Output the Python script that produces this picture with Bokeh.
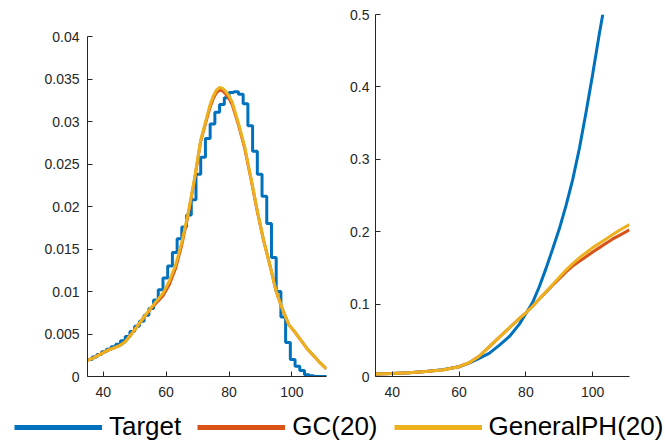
from bokeh.plotting import figure
from bokeh.models import Range1d, FixedTicker, Legend, LegendItem
from bokeh.layouts import column, row
from bokeh.embed import file_html
from bokeh.resources import INLINE

# ---------------- data ----------------
# left panel: density
target_edges = [35, 36.5, 38, 39.5, 41, 42.5, 44, 45.5, 47, 48.5, 50, 51.5, 53, 54.5,
                56, 57.5, 59, 60.5, 62, 63.5, 65, 66.5, 68, 69.5, 71, 72.5, 74, 75.5,
                77, 78.5, 80, 81.5, 83, 84.5, 86, 87.5, 89, 90.5, 92, 93.5, 95, 96.5,
                98, 99.5, 101, 102.5, 104, 105.5, 107, 108.5, 110, 111.5]
target_density = [0.0020, 0.0023, 0.0026, 0.0029, 0.0032, 0.0035, 0.0038, 0.0042, 0.0047, 0.0053,
                  0.0059, 0.0065, 0.0072, 0.0080, 0.0090, 0.0102, 0.0116, 0.0130, 0.0146, 0.0162,
                  0.0176, 0.0190, 0.0208, 0.0238, 0.0258, 0.0280, 0.0297, 0.0311, 0.0320, 0.0328,
                  0.0334, 0.0335, 0.0332, 0.0321, 0.0295, 0.0265, 0.0238, 0.0212, 0.0180, 0.0140,
                  0.0100, 0.0070, 0.0040, 0.0020, 0.0012, 0.0007, 0.0002, 0.0001, 0.0, 0.0, 0.0]

fit_x = [35, 37, 39, 41, 43, 45, 47, 49, 51, 53, 55, 57, 59, 61, 63, 65, 67, 69, 71, 73,
         74, 75, 76, 77, 78, 79, 80, 81, 83, 85, 87, 89, 91, 93, 95, 97, 99, 101, 103,
         105, 107, 109, 111]
gph_density = [0.0019, 0.0022, 0.0026, 0.0030, 0.0033, 0.0036, 0.0041, 0.0050, 0.0060, 0.0070,
               0.0080, 0.0089, 0.0098, 0.0112, 0.0131, 0.0158, 0.0192, 0.0232, 0.0278, 0.0306,
               0.0320, 0.0330, 0.0337, 0.0340, 0.0339, 0.0335, 0.0330, 0.0323, 0.0298, 0.0270,
               0.0233, 0.0195, 0.0160, 0.0131, 0.0100, 0.0079, 0.0061, 0.0052, 0.0042, 0.0032,
               0.0024, 0.0016, 0.0009]
gc_density = [0.0019, 0.0022, 0.0026, 0.0030, 0.0033, 0.0036, 0.0041, 0.0050, 0.0060, 0.0070,
              0.0079, 0.0087, 0.0095, 0.0108, 0.0127, 0.0155, 0.0190, 0.0231, 0.0277, 0.0304,
              0.0317, 0.0327, 0.0334, 0.0337, 0.0336, 0.0332, 0.0327, 0.0320, 0.0296, 0.0268,
              0.0232, 0.0194, 0.0160, 0.0131, 0.0100, 0.0079, 0.0061, 0.0052, 0.0042, 0.0032,
              0.0024, 0.0016, 0.0009]

# right panel: hazard rate
target_hx = [35, 40, 45, 50, 55, 60, 63, 66, 69, 72, 75, 78, 80, 82, 84, 86, 88, 90,
             92, 94, 96, 98, 100, 102, 103]
target_hazard = [0.0035, 0.0042, 0.0052, 0.0068, 0.0095, 0.0135, 0.0185, 0.025, 0.032, 0.043,
                 0.055, 0.072, 0.087, 0.102, 0.124, 0.149, 0.176, 0.204, 0.236, 0.272,
                 0.315, 0.365, 0.418, 0.474, 0.5]
fit_hx = [35, 40, 45, 50, 55, 60, 63, 66, 69, 72, 75, 78, 80, 82, 84, 86, 88, 90,
          92, 94, 96, 98, 100, 102, 104, 106, 108, 111]
gph_hazard = [0.0035, 0.0042, 0.0052, 0.0068, 0.009, 0.0135, 0.019, 0.028, 0.041, 0.054,
              0.067, 0.080, 0.088, 0.097, 0.107, 0.117, 0.127, 0.137, 0.147, 0.156,
              0.164, 0.171, 0.178, 0.184, 0.190, 0.196, 0.202, 0.210]
gc_hazard = [0.0035, 0.0042, 0.0052, 0.0068, 0.009, 0.0135, 0.019, 0.028, 0.041, 0.054,
             0.067, 0.080, 0.088, 0.097, 0.107, 0.1165, 0.126, 0.135, 0.1445, 0.1525,
             0.159, 0.1655, 0.172, 0.178, 0.184, 0.190, 0.195, 0.2025]

x_ticks = [40, 60, 80, 100]
left_y_ticks = [0, 0.005, 0.01, 0.015, 0.02, 0.025, 0.03, 0.035, 0.04]
left_y_labels = ["0", "0.005", "0.01", "0.015", "0.02", "0.025", "0.03", "0.035", "0.04"]
right_y_ticks = [0, 0.1, 0.2, 0.3, 0.4, 0.5]
right_y_labels = ["0", "0.1", "0.2", "0.3", "0.4", "0.5"]
series_names = ["Target", "GC(20)", "GeneralPH(20)"]

# ---------------- style ----------------
BLUE, RED, YELLOW = "#0072BD", "#D95319", "#EDB120"
AX = "#262626"
FONT = "Liberation Sans"
LW = 3

FRAME_H = 362          # shared frame height (row aligns the frames)
LEFT_AXIS_H = 340      # visible height of the left axis
left_ymax = left_y_ticks[-1] * FRAME_H / LEFT_AXIS_H


def style(p, yticks, ylabels, ystand):
    p.outline_line_color = None
    p.grid.visible = False
    p.background_fill_color = "white"
    p.border_fill_color = "white"
    for ax in (p.xaxis[0], p.yaxis[0]):
        ax.axis_line_color = AX
        ax.axis_line_width = 1
        ax.major_tick_line_color = AX
        ax.major_tick_in = 5
        ax.major_tick_out = 0
        ax.minor_tick_line_color = None
        ax.major_label_text_color = AX
        ax.major_label_text_font = FONT
        ax.major_label_text_font_size = "14px"
    p.xaxis[0].ticker = FixedTicker(ticks=x_ticks)
    p.xaxis[0].major_label_standoff = 10
    p.yaxis[0].ticker = FixedTicker(ticks=yticks)
    p.yaxis[0].major_label_overrides = {t: s for t, s in zip(yticks, ylabels)}
    p.yaxis[0].major_label_standoff = ystand


p1 = figure(width=340, height=406, output_backend="svg", toolbar_location=None,
            x_range=Range1d(35, 111), y_range=Range1d(0, left_ymax),
            min_border_left=87, min_border_right=14, min_border_top=14, min_border_bottom=30)
style(p1, left_y_ticks, left_y_labels, 8)
p1.yaxis[0].bounds = (left_y_ticks[0], left_y_ticks[-1])
p1.step(target_edges, target_density + [target_density[-1]], mode="after",
        line_color=BLUE, line_width=LW)
p1.line(fit_x, gc_density, line_color=RED, line_width=LW)
p1.line(fit_x, gph_density, line_color=YELLOW, line_width=LW)

p2 = figure(width=325, height=406, output_backend="svg", toolbar_location=None,
            x_range=Range1d(35, 111), y_range=Range1d(0, 0.5),
            min_border_left=35, min_border_right=36, min_border_top=14, min_border_bottom=30)
style(p2, right_y_ticks, right_y_labels, 6)
p2.line(target_hx, target_hazard, line_color=BLUE, line_width=LW)
p2.line(fit_hx, gc_hazard, line_color=RED, line_width=LW)
p2.line(fit_hx, gph_hazard, line_color=YELLOW, line_width=LW)

# legend strip
p3 = figure(width=665, height=37, output_backend="svg", toolbar_location=None,
            x_range=Range1d(0, 1), y_range=Range1d(0, 1),
            x_axis_type=None, y_axis_type=None, min_border=0)
p3.outline_line_color = None
p3.grid.visible = False
items = []
for name, col in zip(series_names, [BLUE, RED, YELLOW]):
    r = p3.line(x=[float("nan")], y=[float("nan")], line_color=col, line_width=5)
    items.append(LegendItem(label=name, renderers=[r]))
leg = Legend(items=items, orientation="horizontal", location=(14, 1),
             glyph_width=88, glyph_height=20, label_standoff=7, spacing=16,
             padding=0, margin=0, border_line_color=None, background_fill_alpha=0,
             label_text_font=FONT, label_text_font_size="26px", label_text_color="black")
p3.add_layout(leg, "center")

layout = column(row(p1, p2), p3)
open("out.html", "w").write(file_html(layout, INLINE))
